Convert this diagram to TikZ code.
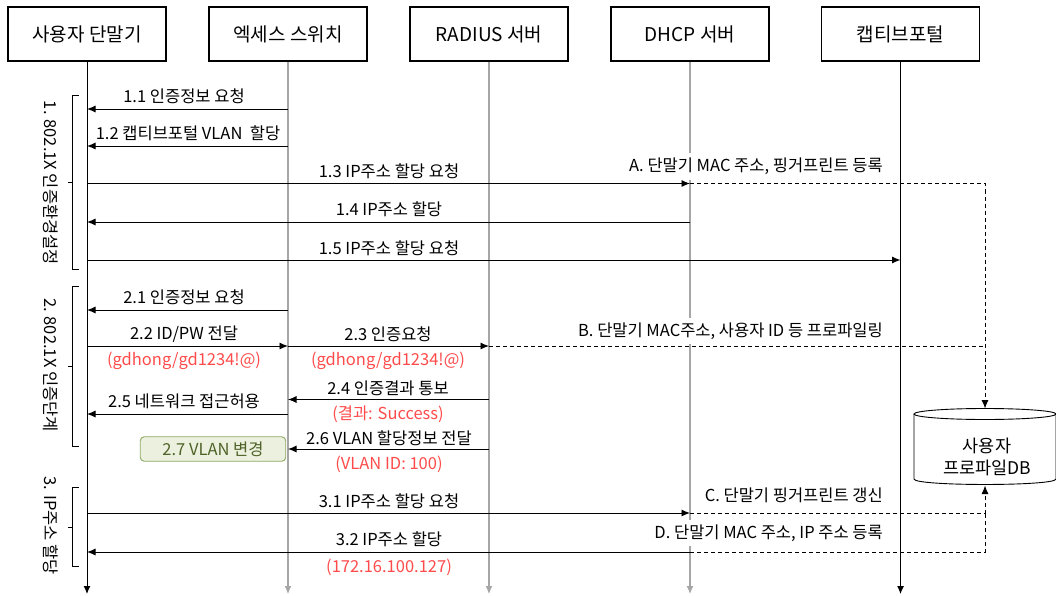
\documentclass[tikz,border=0pt]{standalone}
\usepackage{fontspec}
\setmainfont{Noto Sans CJK KR}
\usetikzlibrary{arrows.meta}
\definecolor{lifegray}{HTML}{A6A6A6}
\definecolor{redtxt}{HTML}{FF4B4B}
\definecolor{gfill}{HTML}{EBF1DE}
\definecolor{gdraw}{HTML}{8EA765}
\definecolor{gtext}{HTML}{4F6228}
\begin{document}
\begin{tikzpicture}[x=1pt,y=-1pt,
  actor/.style={draw, line width=1.2pt, minimum width=158pt, minimum height=54pt, inner sep=0pt, font=\fontsize{19}{22}\selectfont},
  lifeblack/.style={line width=1pt, -{Latex[length=8pt,width=7pt]}},
  lifegrey/.style={draw=lifegray, line width=1.1pt, -{Latex[length=8pt,width=7pt]}},
  msg/.style={line width=0.9pt, -{Latex[length=8.5pt,width=7pt]}},
  dline/.style={line width=0.9pt, dash pattern=on 4pt off 3pt},
  darrow/.style={dline, -{Latex[length=8.5pt,width=7pt]}},
  lbl/.style={inner sep=1pt, font=\fontsize{16.5}{19}\selectfont},
  redlbl/.style={lbl, text=redtxt},
  rlbl/.style={lbl, anchor=east, fill=white, inner ysep=5pt},
  phase/.style={inner sep=0pt, rotate=-90, font=\fontsize{16.5}{19}\selectfont},
  brk/.style={line width=0.9pt},
]
\useasboundingbox (0,0) rectangle (1056,596);

% actors
\node[actor] (a1) at (87,34) {사용자 단말기};
\node[actor] (a2) at (288,34) {엑세스 스위치};
\node[actor] (a3) at (489,34) {RADIUS 서버};
\node[actor] (a4) at (690,34) {DHCP 서버};
\node[actor] (a5) at (900.5,34) {캡티브포털};

% lifeline ends
\coordinate (e1) at (87,594);
\coordinate (e2) at (288,594);
\coordinate (e3) at (489,594);
\coordinate (e4) at (690,594);
\coordinate (e5) at (900.5,594);
\draw[lifeblack] (a1.south) -- (e1);
\draw[lifegrey] (a2.south) -- (e2);
\draw[lifegrey] (a3.south) -- (e3);
\draw[lifegrey] (a4.south) -- (e4);
\draw[lifeblack] (a5.south) -- (e5);

% phase brackets
\draw[brk] (78.5,95) -- (72.5,95) -- (72.5,269) -- (78.5,269);
\draw[brk] (72.5,182) -- (68,182);
\draw[brk] (78.5,286) -- (72.5,286) -- (72.5,446) -- (78.5,446);
\draw[brk] (72.5,366) -- (68,366);
\draw[brk] (78.5,487) -- (72.5,487) -- (72.5,566) -- (78.5,566);
\draw[brk] (72.5,527) -- (68,527);
\node[phase] (p1) at (51,183) {1. 802.1X 인증환경설정};
\node[phase] (p2) at (51,365) {2. 802.1X 인증단계};
\node[phase] (p3) at (51,526) {3. IP주소 할당};

% database
\draw[line width=0.9pt, fill=white] (914,414) -- (914,479) .. controls (914,486.3) and (1056,486.3) .. (1056,479) -- (1056,414);
\draw[line width=0.9pt, fill=white] (985,414) ellipse [x radius=71, y radius=5.5];
\node[align=center, inner sep=0pt, font=\fontsize{17.5}{22}\selectfont] (db) at (987,457) {사용자\\프로파일DB};
\coordinate (dbtop) at (985,408.5);
\coordinate (dbbot) at (985,485.5);

% right side labels (cover DHCP lifeline)
\node[rlbl] (lA) at (884,166.5) {A. 단말기 MAC 주소, 핑거프린트 등록};
\node[rlbl] (lB) at (884,331) {B. 단말기 MAC주소, 사용자 ID 등 프로파일링};
\node[rlbl] (lC) at (884,495) {C. 단말기 핑거프린트 갱신};
\node[rlbl] (lD) at (884,533) {D. 단말기 MAC 주소, IP 주소 등록};

% message coordinates
\coordinate (m11s) at (288,109);   \coordinate (m11e) at (87,109);
\coordinate (m12s) at (288,146);   \coordinate (m12e) at (87,146);
\coordinate (m13s) at (87,183.5);  \coordinate (m13e) at (690,183.5);
\coordinate (m14s) at (690,222);   \coordinate (m14e) at (87,222);
\coordinate (m15s) at (87,260);    \coordinate (m15e) at (900.5,260);
\coordinate (m21s) at (288,310);   \coordinate (m21e) at (87,310);
\coordinate (m22s) at (87,346);    \coordinate (m22e) at (288,346);
\coordinate (m23e) at (489,346);
\coordinate (m24s) at (489,399.5); \coordinate (m24e) at (288,399.5);
\coordinate (m25s) at (288,414);   \coordinate (m25e) at (87,414);
\coordinate (m26s) at (489,449);   \coordinate (m26e) at (288,449);
\coordinate (m31s) at (87,513);    \coordinate (m31e) at (690,513);
\coordinate (m32s) at (690,552);   \coordinate (m32e) at (87,552);
\coordinate (dA) at (985,183.5);
\coordinate (dB) at (985,346);
\coordinate (dC) at (985,513);
\coordinate (dD) at (985,552);

% messages
\draw[msg] (m11s) -- (m11e);
\draw[msg] (m12s) -- (m12e);
\draw[msg] (m13s) -- (m13e);
\draw[msg] (m14s) -- (m14e);
\draw[msg] (m15s) -- (m15e);
\draw[msg] (m21s) -- (m21e);
\draw[msg] (m22s) -- (m22e);
\draw[msg] (m22e) -- (m23e);
\draw[msg] (m24s) -- (m24e);
\draw[msg] (m25s) -- (m25e);
\draw[msg] (m26s) -- (m26e);
\draw[msg] (m31s) -- (m31e);
\draw[msg] (m32s) -- (m32e);

% dashed profile flows
\draw[darrow] (m13e) -- (dA) -- (dbtop);
\draw[dline] (m23e) -- (dB);
\draw[darrow] (m31e) -- (dC) -- (dbbot);
\draw[dline] (m32s) -- (dD) -- (dC);

% message labels
\node[lbl] (t11) at (184,96) {1.1 인증정보 요청};
\node[lbl] (t12) at (188,133) {1.2 캡티브포털 VLAN\ \ 할당};
\node[lbl] (t13) at (389,171) {1.3 IP주소 할당 요청};
\node[lbl] (t14) at (389,209) {1.4 IP주소 할당};
\node[lbl] (t15) at (389,248) {1.5 IP주소 할당 요청};
\node[lbl] (t21) at (184,297) {2.1 인증정보 요청};
\node[lbl] (t22) at (184,334.5) {2.2 ID/PW 전달};
\node[redlbl] (r22) at (184,361) {(gdhong/gd1234!@)};
\node[lbl] (t23) at (388,334.5) {2.3 인증요청};
\node[redlbl] (r23) at (388,361) {(gdhong/gd1234!@)};
\node[lbl] (t24) at (388,388) {2.4 인증결과 통보};
\node[redlbl] (r24) at (388,414) {(결과: Success)};
\node[lbl] (t25) at (184,401) {2.5 네트워크 접근허용};
\node[lbl] (t26) at (389,438) {2.6 VLAN 할당정보 전달};
\node[redlbl] (r26) at (389,464) {(VLAN ID: 100)};
\node[draw=gdraw, fill=gfill, text=gtext, line width=0.9pt, rounded corners=4pt, minimum width=145.5pt, minimum height=24.5pt, inner sep=0pt, font=\fontsize{16.5}{19}\selectfont] (b27) at (213,449) {2.7 VLAN 변경};
\node[lbl] (t31) at (389,501) {3.1 IP주소 할당 요청};
\node[lbl] (t32) at (389,539) {3.2 IP주소 할당};
\node[redlbl] (r32) at (389,567) {(172.16.100.127)};
\end{tikzpicture}
\end{document}
